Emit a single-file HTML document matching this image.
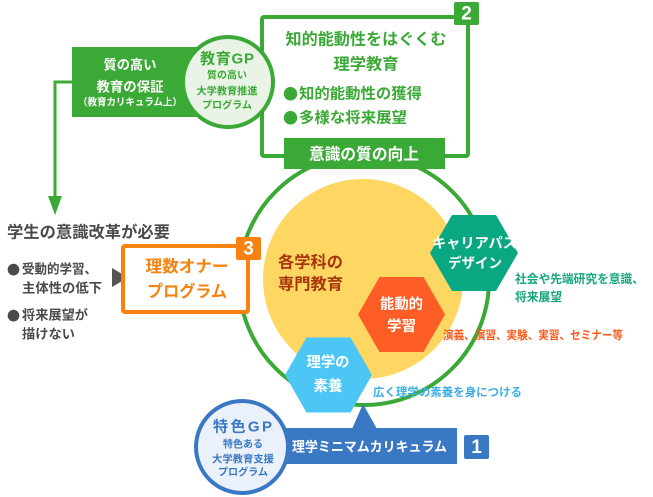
<!DOCTYPE html>
<html>
<head>
<meta charset="utf-8">
<style>
  html,body{margin:0;padding:0;background:#fff;}
  svg{display:block;}
  text{font-family:"Liberation Sans","Noto Sans CJK JP",sans-serif;font-weight:700;dominant-baseline:central;}
  .b{font-family:"Noto Sans CJK JP",sans-serif;}
</style>
</head>
<body>
<svg width="653" height="497" viewBox="0 0 653 497" xmlns="http://www.w3.org/2000/svg">
  <!-- left connector -->
  <polyline points="73,82 55,82 55,198" fill="none" stroke="#3aa935" stroke-width="3"/>
  <polygon points="48,196 62,196 55,215" fill="#3aa935"/>

  <!-- left green box -->
  <rect x="72" y="47" width="150" height="70" fill="#3aa935"/>
  <text x="130" y="65" fill="#fff" font-size="13.5" text-anchor="middle" textLength="53" lengthAdjust="spacingAndGlyphs">質の高い</text>
  <text x="130" y="87" fill="#fff" font-size="13.5" text-anchor="middle" textLength="67" lengthAdjust="spacingAndGlyphs">教育の保証</text>
  <text x="130" y="103" fill="#fff" font-size="10" text-anchor="middle" textLength="104" lengthAdjust="spacingAndGlyphs">（教育カリキュラム上）</text>

  <!-- box 2 -->
  <rect x="262" y="17" width="206" height="139" fill="none" stroke="#3aa935" stroke-width="4" rx="2"/>
  <rect x="454" y="2" width="25" height="23" fill="#3aa935" rx="2"/>
  <text x="466.5" y="14" fill="#fff" font-size="19" text-anchor="middle">2</text>
  <text x="366" y="40" fill="#3aa935" font-size="16" text-anchor="middle" textLength="161" lengthAdjust="spacingAndGlyphs">知的能動性をはぐくむ</text>
  <text x="366" y="65" fill="#3aa935" font-size="16" text-anchor="middle" textLength="65" lengthAdjust="spacingAndGlyphs">理学教育</text>
  <text x="283" y="94" fill="#3aa935" font-size="15" class="b">●</text>
  <text x="299" y="94" fill="#3aa935" font-size="15" textLength="123" lengthAdjust="spacingAndGlyphs">知的能動性の獲得</text>
  <text x="283" y="118" fill="#3aa935" font-size="15" class="b">●</text>
  <text x="299" y="118" fill="#3aa935" font-size="15" textLength="108" lengthAdjust="spacingAndGlyphs">多様な将来展望</text>

  <!-- GP circle top -->
  <circle cx="228" cy="82" r="45" fill="#e9f4e6" stroke="#3aa935" stroke-width="4"/>
  <text x="227" y="59" fill="#3aa935" font-size="15" text-anchor="middle" textLength="54" lengthAdjust="spacing">教育GP</text>
  <text x="227" y="76" fill="#3aa935" font-size="10" text-anchor="middle" textLength="40" lengthAdjust="spacingAndGlyphs">質の高い</text>
  <text x="227" y="92" fill="#3aa935" font-size="10" text-anchor="middle" textLength="61" lengthAdjust="spacingAndGlyphs">大学教育推進</text>
  <text x="227" y="106" fill="#3aa935" font-size="10" text-anchor="middle" textLength="50" lengthAdjust="spacingAndGlyphs">プログラム</text>

  <!-- big ring -->
  <circle cx="364" cy="280" r="125" fill="none" stroke="#3aa935" stroke-width="4"/>
  <!-- banner -->
  <rect x="284" y="138" width="161" height="31" fill="#3aa935"/>
  <text x="364" y="155" fill="#fff" font-size="16" text-anchor="middle" textLength="110" lengthAdjust="spacingAndGlyphs">意識の質の向上</text>

  <!-- yellow circle -->
  <circle cx="363" cy="279" r="100" fill="#fdd762"/>
  <text x="278" y="263" fill="#a8350b" font-size="16" textLength="65" lengthAdjust="spacingAndGlyphs">各学科の</text>
  <text x="278" y="285" fill="#a8350b" font-size="16" textLength="65" lengthAdjust="spacingAndGlyphs">専門教育</text>

  <!-- orange hex -->
  <polygon points="358,314.5 379.5,277 423.5,277 445,314.5 423.5,352 379.5,352" fill="#fe5d25"/>
  <text x="401.5" y="305" fill="#fff" font-size="14.5" text-anchor="middle" textLength="43" lengthAdjust="spacingAndGlyphs">能動的</text>
  <text x="401.5" y="327" fill="#fff" font-size="14.5" text-anchor="middle" textLength="29" lengthAdjust="spacingAndGlyphs">学習</text>

  <!-- blue hex -->
  <polygon points="285,375 306.5,337.5 350.5,337.5 372,375 350.5,412.5 306.5,412.5" fill="#4cc6f4"/>
  <text x="328" y="363" fill="#fff" font-size="14.5" text-anchor="middle" textLength="43" lengthAdjust="spacingAndGlyphs">理学の</text>
  <text x="328" y="387" fill="#fff" font-size="14.5" text-anchor="middle" textLength="29" lengthAdjust="spacingAndGlyphs">素養</text>

  <!-- teal hex -->
  <polygon points="430,253 452,215 496,215 518,253 496,291 452,291" fill="#0aa882"/>
  <text x="474.5" y="243" fill="#fff" font-size="14" text-anchor="middle" textLength="85" lengthAdjust="spacingAndGlyphs">キャリアパス</text>
  <text x="475" y="263" fill="#fff" font-size="14" text-anchor="middle" textLength="54" lengthAdjust="spacingAndGlyphs">デザイン</text>

  <!-- right labels -->
  <text x="515" y="279" fill="#17a57e" font-size="12" textLength="129" lengthAdjust="spacingAndGlyphs">社会や先端研究を意識、</text>
  <text x="515" y="297" fill="#17a57e" font-size="12" textLength="47" lengthAdjust="spacingAndGlyphs">将来展望</text>
  <text x="443" y="336" fill="#fb5a1c" font-size="11.5" textLength="180" lengthAdjust="spacingAndGlyphs">演義、演習、実験、実習、セミナー等</text>
  <text x="373" y="393" fill="#3aaee6" font-size="11.5" textLength="149" lengthAdjust="spacingAndGlyphs">広く理学の素養を身につける</text>

  <!-- left text -->
  <text x="7" y="233" fill="#4a4a4a" font-size="16" textLength="163" lengthAdjust="spacingAndGlyphs">学生の意識改革が必要</text>
  <text x="7" y="269" fill="#4a4a4a" font-size="13" class="b">●</text>
  <text x="22" y="269" fill="#4a4a4a" font-size="13" textLength="75" lengthAdjust="spacingAndGlyphs">受動的学習、</text>
  <text x="22" y="288" fill="#4a4a4a" font-size="13" textLength="80" lengthAdjust="spacingAndGlyphs">主体性の低下</text>
  <text x="7" y="315" fill="#4a4a4a" font-size="13" class="b">●</text>
  <text x="22" y="315" fill="#4a4a4a" font-size="13" textLength="66" lengthAdjust="spacingAndGlyphs">将来展望が</text>
  <text x="22" y="334" fill="#4a4a4a" font-size="13" textLength="53" lengthAdjust="spacingAndGlyphs">描けない</text>
  <polygon points="112,268 112,287 128,277.5" fill="#555"/>

  <!-- box 3 -->
  <rect x="123" y="246" width="125" height="66" fill="#fff" stroke="#f7820f" stroke-width="4" rx="2"/>
  <rect x="236" y="237" width="25" height="23" fill="#f7820f" rx="2"/>
  <text x="248.5" y="249" fill="#fff" font-size="19" text-anchor="middle">3</text>
  <text x="187" y="267" fill="#f7820f" font-size="16.5" text-anchor="middle" textLength="83" lengthAdjust="spacingAndGlyphs">理数オナー</text>
  <text x="187" y="292" fill="#f7820f" font-size="16.5" text-anchor="middle" textLength="80" lengthAdjust="spacingAndGlyphs">プログラム</text>

  <!-- bottom blue banner -->
  <polygon points="352,429 377,429 363,404" fill="#3a78c4"/>
  <rect x="260" y="428" width="197" height="36" fill="#3a78c4"/>
  <text x="292" y="447" fill="#fff" font-size="13.5" textLength="155" lengthAdjust="spacingAndGlyphs">理学ミニマムカリキュラム</text>
  <rect x="464" y="435" width="25" height="24" fill="#3a78c4" rx="2"/>
  <text x="476.5" y="447.5" fill="#fff" font-size="19" text-anchor="middle">1</text>

  <!-- bottom GP circle -->
  <circle cx="242" cy="447" r="46" fill="#eaf1fa" stroke="#3a78c4" stroke-width="4"/>
  <text x="242.5" y="427" fill="#3a78c4" font-size="15" text-anchor="middle" textLength="59" lengthAdjust="spacing">特色GP</text>
  <text x="243" y="445" fill="#3a78c4" font-size="10" text-anchor="middle" textLength="40" lengthAdjust="spacingAndGlyphs">特色ある</text>
  <text x="243" y="460" fill="#3a78c4" font-size="10" text-anchor="middle" textLength="62" lengthAdjust="spacingAndGlyphs">大学教育支援</text>
  <text x="243" y="473" fill="#3a78c4" font-size="10" text-anchor="middle" textLength="50" lengthAdjust="spacingAndGlyphs">プログラム</text>
</svg>
</body>
</html>
